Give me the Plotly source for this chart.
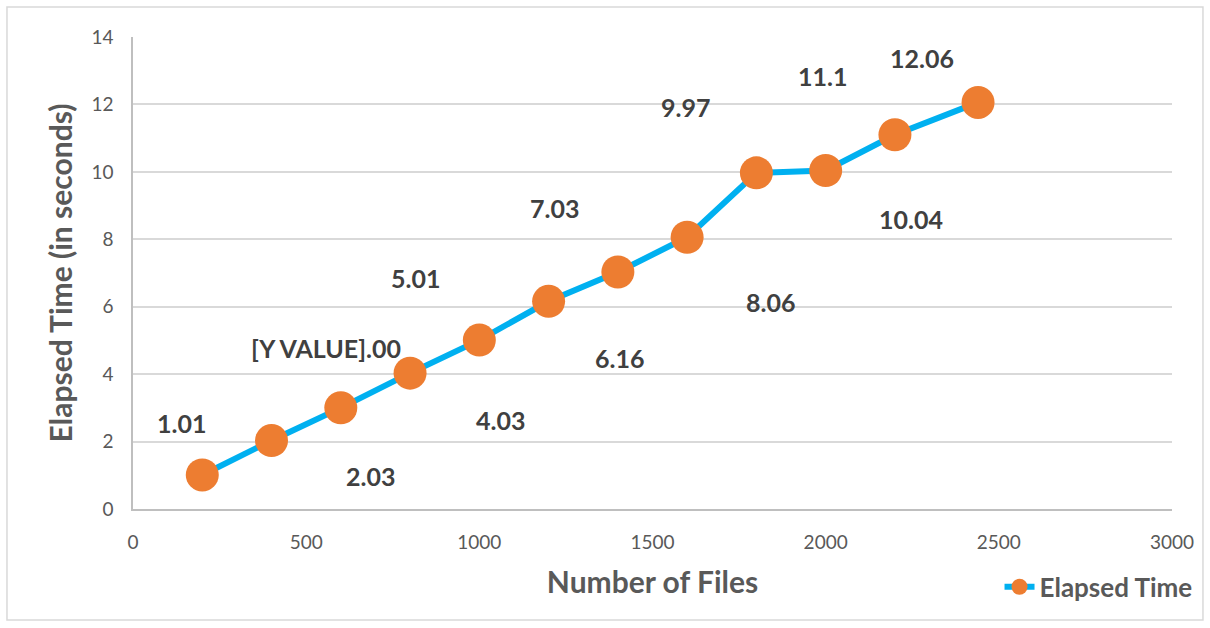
import plotly.graph_objects as go

files = [200, 400, 600, 800, 1000, 1200, 1400, 1600, 1800, 2000, 2200, 2440]
elapsed = [1.01, 2.03, 3.00, 4.03, 5.01, 6.16, 7.03, 8.06, 9.97, 10.04, 11.1, 12.06]
label_texts = ["1.01", "2.03", "[Y VALUE].00", "4.03", "5.01", "6.16", "7.03",
               "8.06", "9.97", "10.04", "11.1", "12.06"]
# pixel offsets of the data labels (style)
label_dx = [-21, 99, -15, 90, -64, 71, -63, 83, -71, 85, -72, -56]
label_dy = [-52, 35, -60, 47, -62, 57, -64, 65, -66, 48, -59, -44]
x_ticks = [0, 500, 1000, 1500, 2000, 2500, 3000]
y_ticks = [0, 2, 4, 6, 8, 10, 12, 14]

FONT = "Lato"

fig = go.Figure()
fig.add_trace(go.Scatter(
    x=files, y=elapsed, mode="lines+markers", name="<b>Elapsed Time</b>",
    line=dict(color="#00B0F0", width=6),
    marker=dict(color="#ED7D31", size=33),
    cliponaxis=False,
))

for xv, yv, t, dx, dy in zip(files, elapsed, label_texts, label_dx, label_dy):
    fig.add_annotation(x=xv, y=yv, text=f"<b>{t}</b>", showarrow=False,
                       xshift=dx, yshift=-dy,
                       font=dict(family=FONT, size=25, color="#404040"))

fig.add_shape(type="rect", xref="paper", yref="paper",
              x0=-0.1213, x1=1.0298, y0=-0.235, y1=1.0636,
              line=dict(color="#D9D9D9", width=1.5), layer="below")

fig.update_layout(
    width=1210, height=628,
    margin=dict(l=133, r=38, t=37, b=119),
    paper_bgcolor="white", plot_bgcolor="white",
    font=dict(family=FONT, color="#595959"),
    showlegend=True,
    legend=dict(x=0.834, y=-0.165, xanchor="left", yanchor="middle",
                font=dict(family=FONT, size=26, color="#595959"),
                bgcolor="rgba(0,0,0,0)"),
    xaxis=dict(range=[0, 3000], tickvals=x_ticks, showgrid=False, zeroline=False,
               showline=True, linecolor="#BFBFBF", linewidth=1.5,
               ticks="outside", ticklen=15, tickcolor="rgba(0,0,0,0)",
               tickfont=dict(size=19, color="#595959"),
               title=dict(text="<b>Number of Files</b>", standoff=20,
                          font=dict(size=30, color="#595959"))),
    yaxis=dict(range=[0, 14], tickvals=y_ticks, showgrid=True, gridcolor="#D9D9D9",
               gridwidth=1.5, zeroline=False,
               showline=True, linecolor="#BFBFBF", linewidth=1.5,
               ticks="outside", ticklen=14, tickcolor="rgba(0,0,0,0)",
               tickfont=dict(size=19, color="#595959"),
               title=dict(text="<b>Elapsed Time (in seconds)</b>", standoff=10,
                          font=dict(size=30, color="#595959"))),
)

fig.write_html("out.html", config={"displayModeBar": False},
               post_script="document.body.style.margin='0';")
